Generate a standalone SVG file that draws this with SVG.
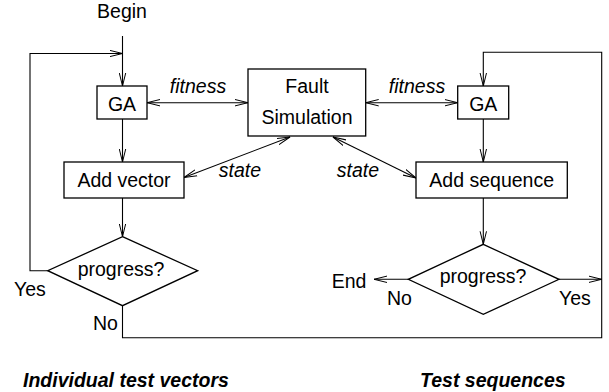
<svg xmlns="http://www.w3.org/2000/svg" width="609" height="392" viewBox="0 0 609 392">
<defs>
<marker id="ah" viewBox="0 0 14 8" refX="13" refY="4" markerWidth="14" markerHeight="8" markerUnits="userSpaceOnUse" orient="auto-start-reverse">
<path d="M0,0.8 L13,4 L0,7.2" fill="none" stroke="#000" stroke-width="1"/>
</marker>
<style>
text{font-family:"Liberation Sans",Arial,sans-serif;font-size:19.5px;fill:#000}
.c{text-anchor:middle}
.i{font-style:italic}
.bi{font-style:italic;font-weight:bold}
.box{fill:#fff;stroke:#000;stroke-width:1.3}
.ln{fill:none;stroke:#000;stroke-width:1.1}
</style>
</defs>
<rect width="609" height="392" fill="#fff"/>
<g id="connectors">
<line class="ln" x1="122.5" y1="36" x2="122.5" y2="86" marker-end="url(#ah)"/>
<polyline class="ln" points="47.7,270.7 30,270.7 30,53.5 122.5,53.5" marker-end="url(#ah)"/>
<line class="ln" x1="147" y1="102.7" x2="248" y2="102.7" marker-start="url(#ah)" marker-end="url(#ah)"/>
<line class="ln" x1="365.7" y1="102.7" x2="457.7" y2="102.7" marker-start="url(#ah)" marker-end="url(#ah)"/>
<line class="ln" x1="122.5" y1="119" x2="122.5" y2="162" marker-end="url(#ah)"/>
<line class="ln" x1="483.3" y1="119" x2="483.3" y2="162" marker-end="url(#ah)"/>
<line class="ln" x1="184" y1="177.5" x2="290" y2="137" marker-start="url(#ah)" marker-end="url(#ah)"/>
<line class="ln" x1="333" y1="137" x2="416" y2="178" marker-start="url(#ah)" marker-end="url(#ah)"/>
<line class="ln" x1="122.5" y1="198" x2="122.5" y2="236.7" marker-end="url(#ah)"/>
<line class="ln" x1="483.3" y1="198" x2="483.3" y2="244.3" marker-end="url(#ah)"/>
<polyline class="ln" points="122.5,305.7 122.5,337.7 601.7,337.7 601.7,52.3 483.3,52.3 483.3,86" marker-end="url(#ah)"/>
<line class="ln" x1="408.3" y1="279.3" x2="374" y2="279.3" marker-end="url(#ah)"/>
<line class="ln" x1="559" y1="279.3" x2="601.7" y2="279.3" marker-end="url(#ah)"/>
</g>
<g id="begin"><text class="c" x="122" y="18">Begin</text></g>
<g id="ga-left"><rect class="box" x="97" y="86" width="50" height="33"/><text class="c" x="122" y="111">GA</text></g>
<g id="fault-sim"><rect class="box" x="248" y="69" width="117.7" height="67"/><text class="c" x="307" y="93">Fault</text><text class="c" x="307" y="124">Simulation</text></g>
<g id="ga-right"><rect class="box" x="457.7" y="86" width="51" height="33"/><text class="c" x="483.3" y="111">GA</text></g>
<g id="add-vector"><rect class="box" x="64" y="162" width="120" height="36"/><text class="c" x="124" y="187">Add vector</text></g>
<g id="add-sequence"><rect class="box" x="416" y="162" width="151.3" height="36"/><text class="c" x="491.7" y="187">Add sequence</text></g>
<g id="progress-left"><polygon class="box" points="122.5,236.7 197.7,270.7 122.5,305.7 47.7,270.7"/><text class="c" x="121" y="276">progress?</text></g>
<g id="progress-right"><polygon class="box" points="483.3,244.3 559,279.3 483.3,314.3 408.3,279.3"/><text class="c" x="483" y="283">progress?</text></g>
<g id="end"><text x="331.7" y="288">End</text></g>
<g id="labels">
<text class="c i" x="198" y="93">fitness</text>
<text class="c i" x="417" y="93">fitness</text>
<text class="c i" x="240" y="177">state</text>
<text class="c i" x="358" y="177">state</text>
<text x="14" y="296">Yes</text>
<text x="93" y="330">No</text>
<text x="387" y="305">No</text>
<text x="559" y="305">Yes</text>
<text class="bi" x="23" y="387">Individual test vectors</text>
<text class="bi" x="420" y="387">Test sequences</text>
</g>
</svg>
